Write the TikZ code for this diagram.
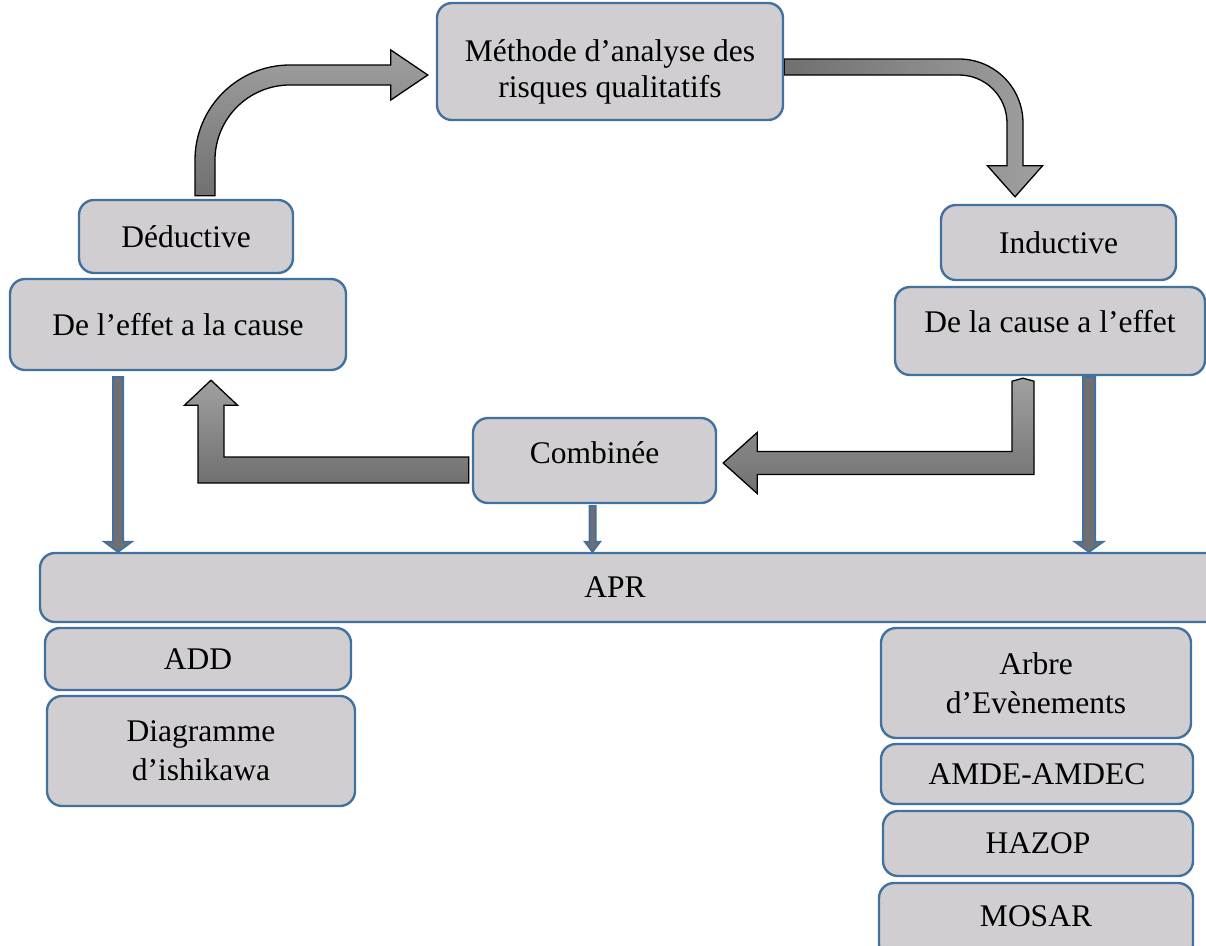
\documentclass[tikz,border=0pt]{standalone}
\usepackage{fontspec}
\setmainfont{Liberation Serif}
\usetikzlibrary{calc,backgrounds}

\definecolor{boxfill}{RGB}{208,206,209}
\definecolor{boxline}{RGB}{65,113,156}
\definecolor{arrdark}{RGB}{112,112,112}
\definecolor{arrlight}{RGB}{160,160,160}
\definecolor{dnfill}{RGB}{112,110,112}

\tikzset{
  stepbox/.style={draw=boxline, fill=boxfill, line width=2.4pt,
    rounded corners=15pt, inner sep=0pt, align=center,
    font=\fontsize{31.5}{37}\selectfont},
  blockarr/.style={draw=black, line width=1.3pt, line join=miter},
  dnarr/.style={draw=boxline, fill=dnfill, line width=2pt, line join=miter},
}

% thin vertical block arrow: #1 start, #2 tip, #3 half shaft, #4 half head
\newcommand\blockdn[4]{%
  \path[dnarr] let \p1=(#1), \p2=(#2) in
    ({\x1-#3pt},\y1) -- ({\x1-#3pt},{\y2+10pt}) -- ({\x1-#4pt},{\y2+10pt})
    -- (\x1,\y2) -- ({\x1+#4pt},{\y2+10pt}) -- ({\x1+#3pt},{\y2+10pt})
    -- ({\x1+#3pt},\y1) -- cycle;}

\begin{document}
\begin{tikzpicture}[x=1pt,y=-1pt]
\clip (0,0) rectangle (1206,945);

% boxes
\node[stepbox, minimum width=346pt, minimum height=117pt,
  label={[align=center, font=\fontsize{31.5}{36}\selectfont, yshift=-10pt]center:Méthode d’analyse des\\risques qualitatifs}]
  (meth) at (610,61.5) {};
\node[stepbox, minimum width=214pt, minimum height=73pt] (ded) at (186,236.5) {Déductive};
\node[stepbox, minimum width=336pt, minimum height=91pt] (effet) at (178,324.5) {De l’effet a la cause};
\node[stepbox, minimum width=235pt, minimum height=75pt] (ind) at (1058.5,242.5) {Inductive};
\node[stepbox, minimum width=310pt, minimum height=88pt] (cause) at (1050,331)
  {\raisebox{20pt}{De la cause a l’effet}};
\node[stepbox, minimum width=243pt, minimum height=85pt] (comb) at (594.5,460.5)
  {\raisebox{16pt}{Combinée}};
\node[stepbox, minimum width=1200pt, minimum height=69pt] (apr) at (640,587.5)
  {\hspace*{-50pt}APR};
\node[stepbox, minimum width=306pt, minimum height=62pt] (add) at (198,659) {ADD};
\node[stepbox, minimum width=308pt, minimum height=110pt] (ishi) at (201,751)
  {Diagramme\\[2pt]d’ishikawa};
\node[stepbox, minimum width=310pt, minimum height=110pt] (arbre) at (1036,683)
  {Arbre\\[2pt]d’Evènements};
\node[stepbox, minimum width=312pt, minimum height=60pt] (amde) at (1037,774) {AMDE-AMDEC};
\node[stepbox, minimum width=310pt, minimum height=65pt] (hazop) at (1038,843.5) {HAZOP};
\node[stepbox, minimum width=314pt, minimum height=77pt] (mosar) at (1036,921.5)
  {\raisebox{10pt}{MOSAR}};

% end points of the connectors
\coordinate (aS) at ([xshift=19pt,yshift=3pt]ded.north);
\coordinate (aT) at ([xshift=-8pt,yshift=-13.5pt]meth.west);
\coordinate (bS) at ([yshift=-5.5pt]meth.east);
\coordinate (bT) at ([xshift=-43.5pt,yshift=7pt]ind.north);
\coordinate (cS) at ([xshift=-3pt,yshift=-9.5pt]comb.west);
\coordinate (cT) at ([xshift=33pt,yshift=-9pt]effet.south);
\coordinate (dS) at ([xshift=-27pt,yshift=-5pt]cause.south);
\coordinate (dT) at ([xshift=6pt,yshift=-2.5pt]comb.east);
\coordinate (e1) at ([xshift=-60pt,yshift=-6pt]effet.south);
\coordinate (e2) at ([xshift=-2pt,yshift=-2pt]comb.south);
\coordinate (e3) at ([xshift=39pt,yshift=-1pt]cause.south);

\begin{pgfonlayer}{background}
% Deductive -> method (bent up and right)
\path[blockarr, top color=arrlight, bottom color=arrdark]
  let \p1=(aS), \p2=(aT) in
  ({\x1-10pt},\y1) -- ({\x1-10pt},{\y2-85pt})
  arc[start angle=180, end angle=90, radius=95pt]
  -- ({\x2-37pt},{\y2+10pt}) -- ({\x2-37pt},{\y2+25pt}) -- (\x2,\y2)
  -- ({\x2-37pt},{\y2-25pt}) -- ({\x2-37pt},{\y2-10pt}) -- ({\x1+85pt},{\y2-10pt})
  arc[start angle=90, end angle=180, radius=75pt]
  -- ({\x1+10pt},\y1) -- cycle;

% method -> inductive (bent right and down)
\path[blockarr, left color=arrdark, right color=arrlight]
  let \p1=(bS), \p2=(bT) in
  (\x1,{\y1+8pt}) -- ({\x2-56pt},{\y1+8pt})
  arc[start angle=90, end angle=0, radius=64pt]
  -- ({\x2+8pt},{\y2+31pt}) -- ({\x2+27.5pt},{\y2+31pt}) -- (\x2,\y2)
  -- ({\x2-27.5pt},{\y2+31pt}) -- ({\x2-8pt},{\y2+31pt}) -- ({\x2-8pt},{\y1-56pt})
  arc[start angle=0, end angle=90, radius=48pt]
  -- (\x1,{\y1-8pt}) -- cycle;

% combined -> deductive (left then up)
\path[blockarr, top color=arrlight, bottom color=arrdark]
  let \p1=(cS), \p2=(cT) in
  (\x1,{\y1+13pt}) -- ({\x2+13pt},{\y1+13pt}) -- ({\x2+13pt},{\y2-25pt})
  -- ({\x2+26.5pt},{\y2-25pt}) -- (\x2,\y2) -- ({\x2-26.5pt},{\y2-25pt})
  -- ({\x2-13pt},{\y2-25pt}) -- ({\x2-13pt},{\y1-13pt}) -- (\x1,{\y1-13pt}) -- cycle;

% inductive -> combined (down then left)
\path[blockarr, top color=arrlight, bottom color=arrdark]
  let \p1=(dS), \p2=(dT) in
  ({\x1-11pt},\y1) -- (\x1,{\y1+3pt}) -- ({\x1+11pt},\y1) -- ({\x1+11pt},{\y2-11.5pt})
  -- ({\x2+34pt},{\y2-11.5pt}) -- ({\x2+34pt},{\y2-30.5pt}) -- (\x2,\y2)
  -- ({\x2+34pt},{\y2+30.5pt}) -- ({\x2+34pt},{\y2+11.5pt}) -- ({\x1-11pt},{\y2+11.5pt}) -- cycle;

% arrows down to APR
\blockdn{e1}{apr.north -| e1}{5}{13.5}
\blockdn{e2}{apr.north -| e2}{3}{7.5}
\blockdn{e3}{apr.north -| e3}{6}{14}
\end{pgfonlayer}
\end{tikzpicture}
\end{document}
